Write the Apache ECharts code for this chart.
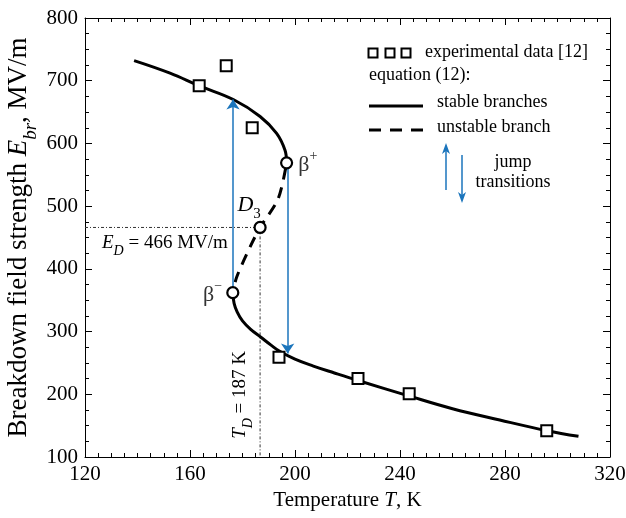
<!DOCTYPE html>
<html><head><meta charset="utf-8">
<script src="https://cdn.jsdelivr.net/npm/echarts@6/dist/echarts.min.js"></script>
<style>html,body{margin:0;padding:0;background:#fff}#c{width:626px;height:518px}</style>
</head><body><div id="c"></div>
<script>
// ---- data ----
const expT = [163.5, 173.8, 183.7, 193.9, 224, 243.5, 295.9];
const expE = [692, 724, 625, 259, 225, 201, 142];
const upperT = [138.7, 152.4, 163.4, 176.5, 186.7, 193, 196.2, 196.8];
const upperE = [732, 712, 692, 670, 643, 616, 589, 569];
const unstT = [196.8, 193.6, 186.7, 182.9, 177.8, 176.3];
const unstE = [569, 512, 466, 435, 387, 362];
const lowerT = [176.3, 176.8, 178, 180, 183, 187, 191, 194, 200, 207, 215, 224, 243.6, 260, 278, 296, 308];
const lowerE = [362, 345, 331, 317, 304, 291, 278, 269, 256, 245, 234, 222, 197, 177, 159, 142, 133];
const pointNames = ['β+', 'D3', 'β−'];
const pointT = [196.8, 186.7, 176.3];
const pointE = [569, 466, 362];
const ED = 466, TD = 186.7;
const jumpUp = { T: 176.4, from: 362, to: 670 };
const jumpDown = { T: 197.2, from: 569, to: 265 };
const xTicks = { min: 120, max: 320, step: 40 };
const yTicks = { min: 100, max: 800, step: 100 };

const F = 'Liberation Serif';
const zip = (a, b) => a.map((v, i) => [v, b[i]]);
const BLUE = '#1b75bc';

const chart = echarts.init(document.getElementById('c'), null, { renderer: 'canvas' });

const axisCommon = {
  type: 'value',
  axisLine: { show: true, onZero: false, lineStyle: { color: '#000', width: 1 } },
  axisTick: { show: true, inside: true, length: 7, lineStyle: { color: '#000', width: 1 } },
  splitLine: { show: false },
};

function titleRich(fs) {
  return {
    n: { fontFamily: F, fontSize: fs, color: '#000', lineHeight: fs + 3, verticalAlign: 'top' },
    i: { fontFamily: F, fontSize: fs, color: '#000', fontStyle: 'italic', lineHeight: fs + 3, verticalAlign: 'top' },
    s: { fontFamily: F, fontSize: Math.round(fs * 0.7), color: '#000', fontStyle: 'italic', lineHeight: Math.round(fs * 0.75), verticalAlign: 'top', padding: [Math.round(fs * 0.58), 0, 0, 0] }
  };
}

const option = {
  animation: false,
  backgroundColor: '#fff',
  textStyle: { fontFamily: F },
  grid: { left: 85, right: 16, top: 18, bottom: 61, containLabel: false, outerBoundsMode: 'none' },
  xAxis: [
    Object.assign({}, axisCommon, {
      min: xTicks.min, max: xTicks.max, interval: xTicks.step, position: 'bottom',
      minorTick: { show: true, splitNumber: 8, length: 4, lineStyle: { color: '#000', width: 1 } },
      axisLabel: { color: '#000', fontFamily: F, fontSize: 21, margin: 7 },
      name: '{n|Temperature }{i|T}{n|, K}', nameLocation: 'middle', nameGap: 30,
      nameTextStyle: { fontFamily: F, fontSize: 21, color: '#000', rich: titleRich(21) }
    }),
    Object.assign({}, axisCommon, {
      min: xTicks.min, max: xTicks.max, interval: xTicks.step, position: 'top',
      minorTick: { show: true, splitNumber: 8, length: 4, lineStyle: { color: '#000', width: 1 } },
      axisLabel: { show: false }
    })
  ],
  yAxis: [
    Object.assign({}, axisCommon, {
      min: yTicks.min, max: yTicks.max, interval: yTicks.step, position: 'left',
      minorTick: { show: true, splitNumber: 4, length: 4, lineStyle: { color: '#000', width: 1 } },
      axisLabel: { color: '#000', fontFamily: F, fontSize: 21, margin: 7 },
      name: '{n|Breakdown field strength }{i|E}{s|br}{n|, MV/m}', nameLocation: 'middle', nameGap: 50,
      nameMoveOverlap: false,
      nameTextStyle: { fontFamily: F, fontSize: 27, color: '#000', rich: titleRich(27) }
    }),
    Object.assign({}, axisCommon, {
      min: yTicks.min, max: yTicks.max, interval: yTicks.step, position: 'right',
      minorTick: { show: true, splitNumber: 4, length: 4, lineStyle: { color: '#000', width: 1 } },
      axisLabel: { show: false }
    })
  ],
  series: [
    { // guide lines (dash-dot)
      type: 'line', data: [[xTicks.min, ED], [TD, ED], [TD, yTicks.min]],
      showSymbol: false, symbol: 'none', silent: true, z: 1,
      lineStyle: { color: '#333', width: 1, type: [3, 2, 1, 2] }
    },
    { type: 'line', data: zip(upperT, upperE), smooth: 0.4, symbol: 'none', z: 3,
      lineStyle: { color: '#000', width: 3 } },
    { type: 'line', data: zip(lowerT, lowerE), smooth: 0.4, symbol: 'none', z: 3,
      lineStyle: { color: '#000', width: 3 } },
    { type: 'line', data: zip(unstT, unstE), smooth: 0.3, symbol: 'none', z: 3,
      lineStyle: { color: '#000', width: 3, type: [11, 8], dashOffset: -6 } },
    { type: 'lines', coordinateSystem: 'cartesian2d', z: 4,
      symbol: ['none', 'arrow'], symbolSize: [1, 10],
      lineStyle: { color: BLUE, width: 1.5, curveness: 0, opacity: 1 },
      data: [
        { coords: [[jumpUp.T, jumpUp.from], [jumpUp.T, jumpUp.to]] },
        { coords: [[jumpDown.T, jumpDown.from], [jumpDown.T, jumpDown.to]] }
      ]
    },
    { type: 'scatter', data: zip(expT, expE), symbol: 'rect', symbolSize: 11, z: 5,
      itemStyle: { color: '#fff', borderColor: '#000', borderWidth: 2, opacity: 1 } },
    { type: 'scatter', z: 6, symbol: 'circle', symbolSize: 11,
      itemStyle: { color: '#fff', borderColor: '#000', borderWidth: 2.2, opacity: 1 },
      data: pointT.map((t, k) => {
        const d = { value: [t, pointE[k]], name: pointNames[k] };
        const lbRich = {
          b: { fontFamily: F, fontSize: 22, color: '#333', lineHeight: 27, verticalAlign: 'bottom' },
          p: { fontFamily: F, fontSize: 14, color: '#333', lineHeight: 14, verticalAlign: 'top' },
          d: { fontFamily: F, fontSize: 22, color: '#000', fontStyle: 'italic', lineHeight: 25, verticalAlign: 'top' },
          s: { fontFamily: F, fontSize: 15, color: '#000', lineHeight: 16, verticalAlign: 'top', padding: [13, 0, 0, 0] }
        };
        if (k === 0) d.label = { show: true, position: 'right', distance: 5, formatter: '{b|β}{p|+}', rich: lbRich };
        if (k === 1) d.label = { show: true, position: 'top', distance: 2, offset: [-11, 0], formatter: '{d|D}{s|3}', rich: lbRich };
        if (k === 2) d.label = { show: true, position: 'left', distance: 4, formatter: '{b|β}{p|−}', rich: lbRich };
        return d;
      })
    }
  ]
};
chart.setOption(option);

// annotations anchored to data coordinates
const pE = chart.convertToPixel({ gridIndex: 0 }, [xTicks.min, ED]);
const pT = chart.convertToPixel({ gridIndex: 0 }, [TD, 199]);
const annRich = {
  n: { fontFamily: F, fontSize: 19, fill: '#000', lineHeight: 22, verticalAlign: 'top' },
  i: { fontFamily: F, fontSize: 19, fill: '#000', fontStyle: 'italic', lineHeight: 22, verticalAlign: 'top' },
  s: { fontFamily: F, fontSize: 14, fill: '#000', fontStyle: 'italic', lineHeight: 14, verticalAlign: 'top', padding: [11, 0, 0, 0] }
};
const legFont = { font: "18px 'Liberation Serif'", fill: '#000' };
function arrowHead(x, y, dir) { // dir: -1 up, +1 down
  return { type: 'polygon', shape: { points: [[x, y], [x - 4, y - dir * 11], [x, y - dir * 8], [x + 4, y - dir * 11]] }, style: { fill: BLUE } };
}
chart.setOption({
  graphic: [
    { type: 'text', x: pE[0] + 17, y: pE[1] + 6, style: { text: '{i|E}{s|D}{n| = 466 MV/m}', rich: annRich, font: "19px 'Liberation Serif'", align: 'left', verticalAlign: 'top' } },
    { type: 'text', x: pT[0] - 19, y: pT[1], rotation: Math.PI / 2, style: { text: '{i|T}{s|D}{n| = 187 K}', rich: annRich, font: "19px 'Liberation Serif'", align: 'center', verticalAlign: 'middle' } },
    // legend
    { type: 'rect', shape: { x: 368.5, y: 48.5, width: 9, height: 9 }, style: { fill: '#fff', stroke: '#000', lineWidth: 2 } },
    { type: 'rect', shape: { x: 385.5, y: 48.5, width: 9, height: 9 }, style: { fill: '#fff', stroke: '#000', lineWidth: 2 } },
    { type: 'rect', shape: { x: 401.5, y: 48.5, width: 9, height: 9 }, style: { fill: '#fff', stroke: '#000', lineWidth: 2 } },
    { type: 'text', x: 425, y: 52, style: Object.assign({ text: 'experimental data [12]', align: 'left', verticalAlign: 'middle' }, legFont) },
    { type: 'text', x: 369, y: 75, style: Object.assign({ text: 'equation (12):', align: 'left', verticalAlign: 'middle' }, legFont) },
    { type: 'line', shape: { x1: 369, y1: 106, x2: 423, y2: 106 }, style: { stroke: '#000', lineWidth: 3 } },
    { type: 'text', x: 437, y: 102, style: Object.assign({ text: 'stable branches', align: 'left', verticalAlign: 'middle' }, legFont) },
    { type: 'line', shape: { x1: 369, y1: 130, x2: 423, y2: 130 }, style: { stroke: '#000', lineWidth: 3, lineDash: [12, 9] } },
    { type: 'text', x: 437, y: 127, style: Object.assign({ text: 'unstable branch', align: 'left', verticalAlign: 'middle' }, legFont) },
    { type: 'line', shape: { x1: 446, y1: 190, x2: 446, y2: 148 }, style: { stroke: BLUE, lineWidth: 1.5 } },
    arrowHead(446, 143, -1),
    { type: 'line', shape: { x1: 462, y1: 155, x2: 462, y2: 198 }, style: { stroke: BLUE, lineWidth: 1.5 } },
    arrowHead(462, 203, 1),
    { type: 'text', x: 513, y: 162, style: Object.assign({ text: 'jump', align: 'center', verticalAlign: 'middle' }, legFont) },
    { type: 'text', x: 513, y: 182, style: Object.assign({ text: 'transitions', align: 'center', verticalAlign: 'middle' }, legFont) }
  ]
});
</script></body></html>
